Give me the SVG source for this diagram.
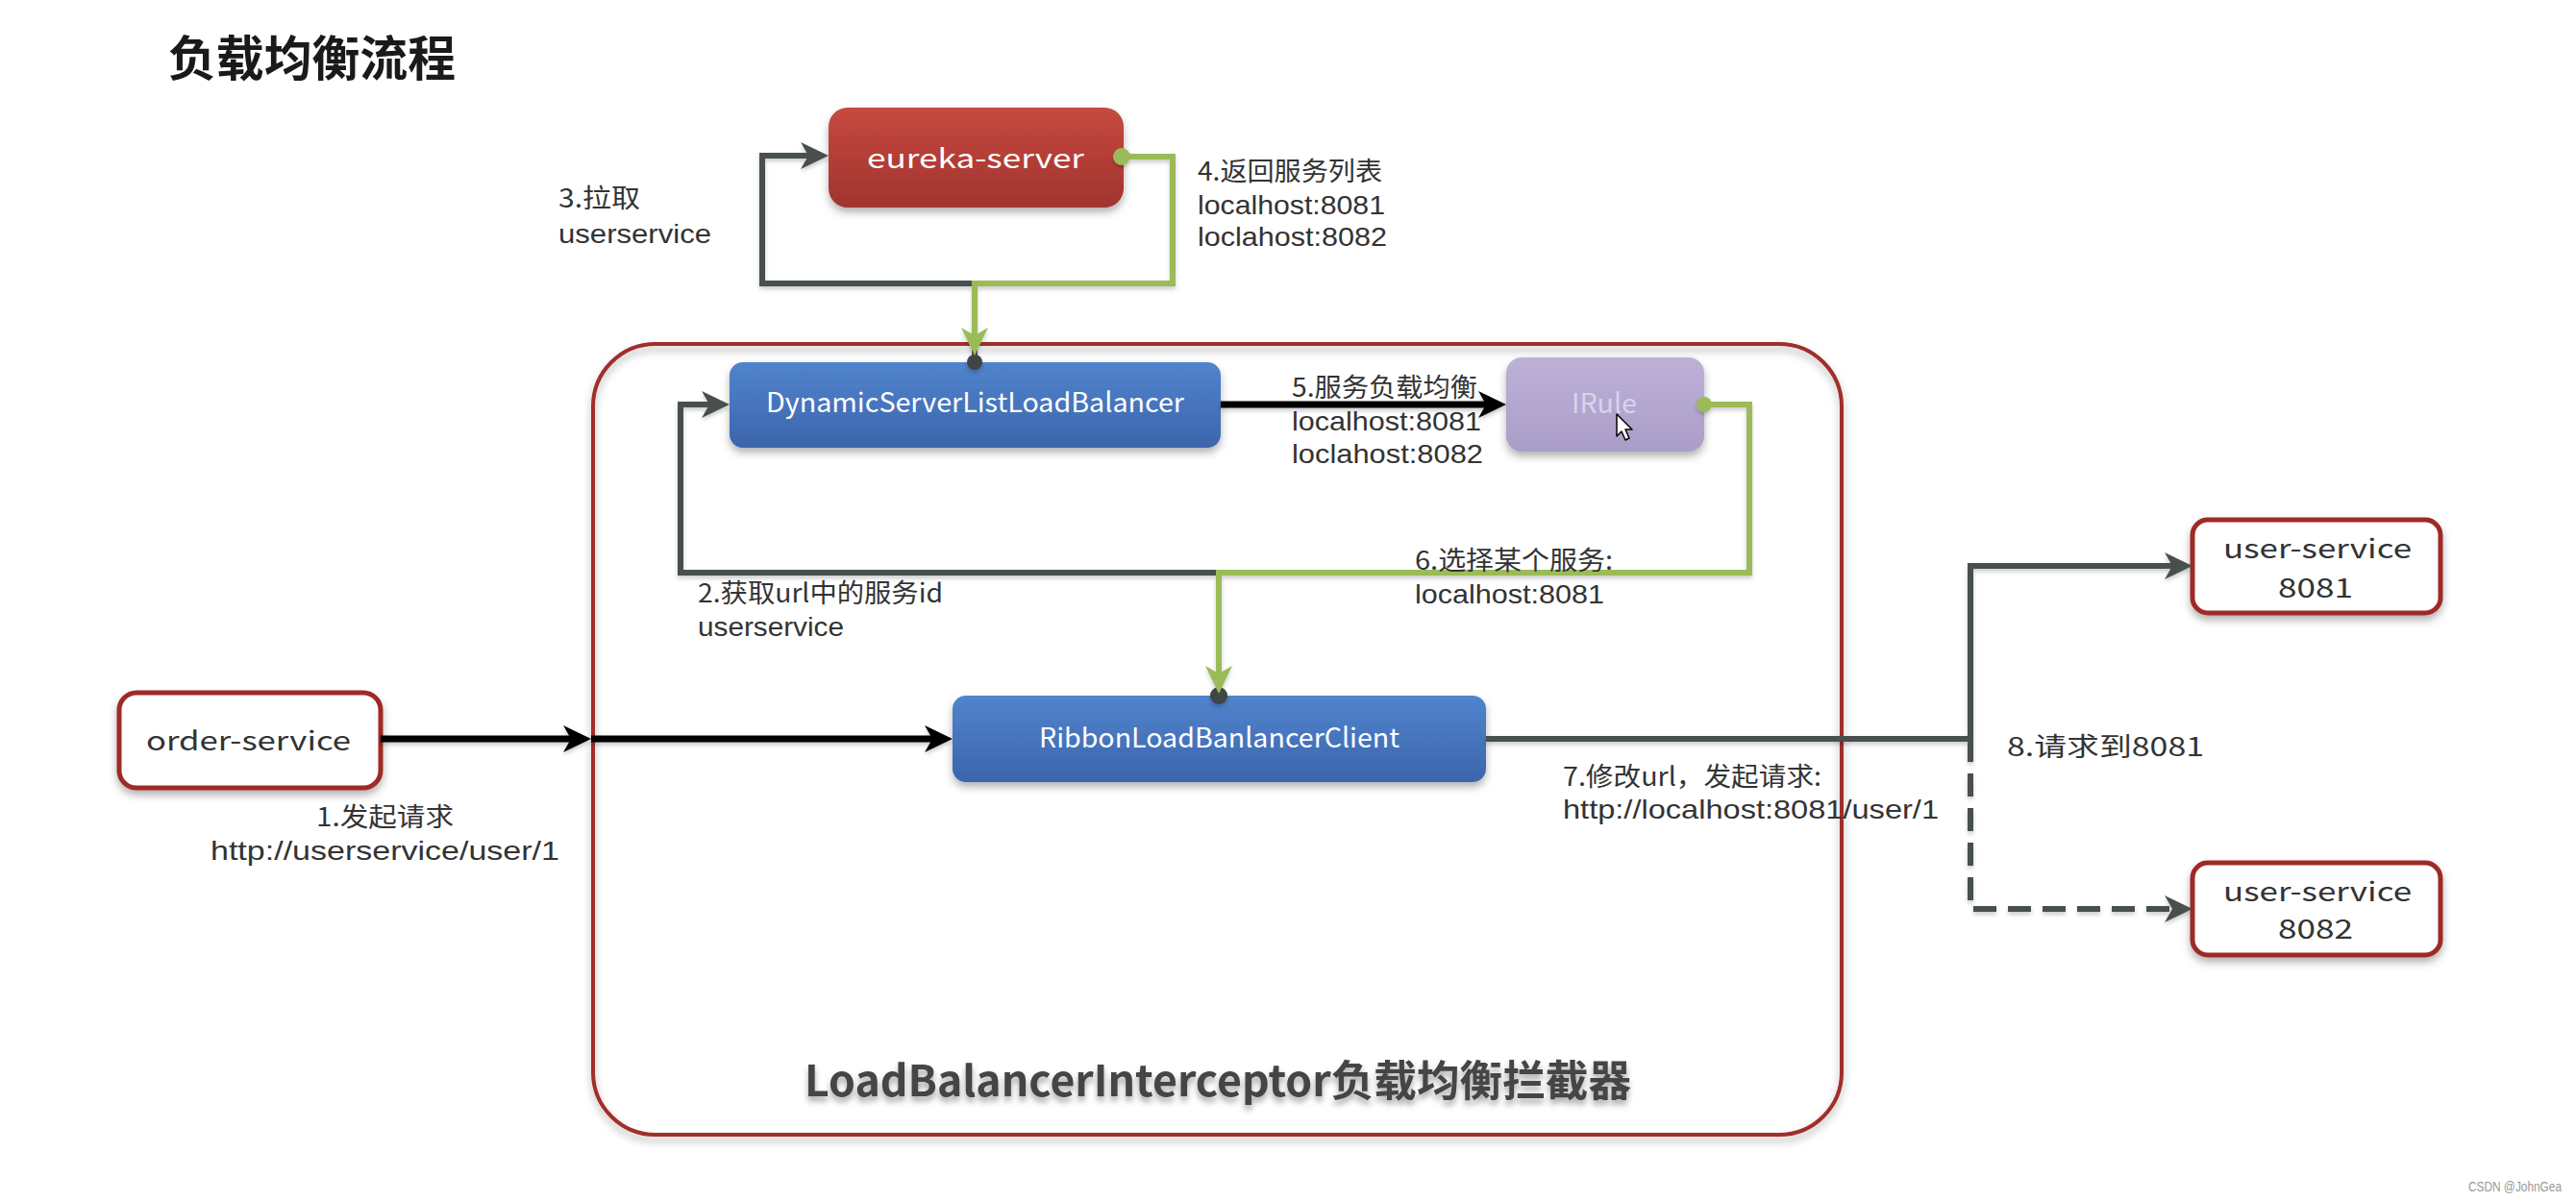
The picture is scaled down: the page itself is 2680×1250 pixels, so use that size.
<svg xmlns="http://www.w3.org/2000/svg" width="2680" height="1250" viewBox="0 0 2680 1250">
<defs>
<style>
.lbl{font-family:"Noto Sans CJK SC","Noto Sans",sans-serif;font-size:27px;fill:#333333}
.lat{font-family:"Liberation Sans","Noto Sans",sans-serif;font-size:28px;fill:#333333}
.ntx{font-family:"Noto Sans CJK SC","Noto Sans",sans-serif;font-size:28px}
.wbox{fill:#ffffff;stroke:#9e2c28;stroke-width:5}
.grey{fill:none;stroke:#4a4f4f;stroke-width:6;stroke-linejoin:miter}
.green{fill:none;stroke:#9bbb59;stroke-width:6;stroke-linejoin:miter}
.black{fill:none;stroke:#000000;stroke-width:7}
</style>
<linearGradient id="gRed" x1="0" y1="0" x2="0" y2="1"><stop offset="0" stop-color="#c6493f"/><stop offset="1" stop-color="#a1342f"/></linearGradient>
<linearGradient id="gBlue" x1="0" y1="0" x2="0" y2="1"><stop offset="0" stop-color="#5184cd"/><stop offset="1" stop-color="#3b65ac"/></linearGradient>
<linearGradient id="gPurple" x1="0" y1="0" x2="0" y2="1"><stop offset="0" stop-color="#bdb1d8"/><stop offset="1" stop-color="#aa9ec9"/></linearGradient>
<filter id="sh" x="-10%" y="-20%" width="120%" height="150%"><feDropShadow dx="0" dy="5" stdDeviation="4" flood-color="#000" flood-opacity="0.3"/></filter>
<filter id="lsh" x="-10%" y="-10%" width="120%" height="130%"><feDropShadow dx="0" dy="3" stdDeviation="2" flood-color="#000" flood-opacity="0.2"/></filter>
<filter id="tsh" x="-5%" y="-30%" width="110%" height="180%"><feDropShadow dx="0" dy="5" stdDeviation="3" flood-color="#000" flood-opacity="0.35"/></filter>
<marker id="aBlack" viewBox="0 0 30 30" refX="18" refY="15" markerWidth="30" markerHeight="30" markerUnits="userSpaceOnUse" orient="auto"><path d="M1,1 L30,15 L1,29 L9,15 Z" fill="#000000"/></marker>
<marker id="aGrey" viewBox="0 0 30 30" refX="18" refY="15" markerWidth="30" markerHeight="30" markerUnits="userSpaceOnUse" orient="auto"><path d="M1,1 L30,15 L1,29 L9,15 Z" fill="#4a4f4f"/></marker>
<marker id="aGreen" viewBox="0 0 30 30" refX="18" refY="15" markerWidth="30" markerHeight="30" markerUnits="userSpaceOnUse" orient="auto"><path d="M1,1 L30,15 L1,29 L9,15 Z" fill="#9bbb59"/></marker>
</defs>
<rect width="2680" height="1250" fill="#ffffff"/>

<text x="175" y="79" font-family="'Noto Sans CJK SC',sans-serif" font-size="50" font-weight="bold" fill="#1a1a1a" textLength="299" lengthAdjust="spacingAndGlyphs">负载均衡流程</text>

<g id="interceptor">
<rect x="617" y="358" width="1299" height="823" rx="65" ry="65" fill="none" stroke="#a12d2a" stroke-width="4" filter="url(#sh)"/>
<text x="837" y="1141" font-family="'Noto Sans CJK SC',sans-serif" font-size="44" font-weight="bold" fill="#444444" textLength="860" lengthAdjust="spacingAndGlyphs" filter="url(#tsh)">LoadBalancerInterceptor负载均衡拦截器</text>
</g>

<g id="eureka-server">
<rect x="862" y="112" width="307" height="104" rx="20" fill="url(#gRed)" filter="url(#sh)"/>
<text class="ntx" x="902" y="175" font-size="32" fill="#ffffff" textLength="226" lengthAdjust="spacingAndGlyphs">eureka-server</text>
</g>

<g id="dynamic-lb">
<rect x="759" y="377" width="511" height="89" rx="14" fill="url(#gBlue)" filter="url(#sh)"/>
<text class="ntx" x="797" y="429" font-size="27" fill="#ffffff" textLength="435" lengthAdjust="spacingAndGlyphs">DynamicServerListLoadBalancer</text>
</g>

<g id="irule">
<rect x="1567" y="372" width="206" height="98" rx="16" fill="url(#gPurple)" filter="url(#sh)"/>
<text class="ntx" x="1635" y="430" font-size="28" fill="#dad2ec" textLength="68" lengthAdjust="spacingAndGlyphs">IRule</text>
<path d="M1682,431 L1682,454 L1687,449 L1691,458 L1695,456 L1691,447 L1698,447 Z" fill="#ffffff" stroke="#000000" stroke-width="1.5" stroke-linejoin="round"/>
</g>

<g id="ribbon-client">
<rect x="991" y="724" width="555" height="90" rx="14" fill="url(#gBlue)" filter="url(#sh)"/>
<text class="ntx" x="1081" y="778" font-size="28" fill="#ffffff" textLength="375" lengthAdjust="spacingAndGlyphs">RibbonLoadBanlancerClient</text>
</g>

<g id="order-service">
<rect class="wbox" x="124" y="721" width="272" height="99" rx="18" filter="url(#sh)"/>
<text class="ntx" x="152" y="781" font-size="32" fill="#333333" textLength="213" lengthAdjust="spacingAndGlyphs">order-service</text>
</g>

<g id="user-service-8081">
<rect class="wbox" x="2281" y="541" width="258" height="97" rx="16" filter="url(#sh)"/>
<text class="ntx" x="2313" y="581" font-size="32" fill="#333333" textLength="196" lengthAdjust="spacingAndGlyphs">user-service</text>
<text class="ntx" x="2370" y="622" font-size="32" fill="#333333" textLength="78" lengthAdjust="spacingAndGlyphs">8081</text>
</g>

<g id="user-service-8082">
<rect class="wbox" x="2281" y="898" width="258" height="96" rx="16" filter="url(#sh)"/>
<text class="ntx" x="2313" y="938" font-size="32" fill="#333333" textLength="196" lengthAdjust="spacingAndGlyphs">user-service</text>
<text class="ntx" x="2370" y="977" font-size="32" fill="#333333" textLength="78" lengthAdjust="spacingAndGlyphs">8082</text>
</g>

<g id="connectors" filter="url(#lsh)">
<path class="black" d="M396,769 H603" marker-end="url(#aBlack)"/>
<path class="black" d="M615,769 H979" marker-end="url(#aBlack)"/>
<path class="grey" d="M1268,724 V596 H708 V421 H747" marker-end="url(#aGrey)"/>
<circle cx="1268" cy="724" r="9" fill="#3f4444"/>
<path class="grey" d="M1014,377 V295 H793 V162 H850" marker-end="url(#aGrey)"/>
<circle cx="1014" cy="377" r="8" fill="#3f4444"/>
<path class="green" d="M1167,163 H1220 V295 H1014 V358" marker-end="url(#aGreen)"/>
<circle cx="1167" cy="163" r="9" fill="#9bbb59"/>
<path class="black" d="M1270,421 H1555" marker-end="url(#aBlack)"/>
<path class="green" d="M1773,421 H1820 V596 H1268 V710" marker-end="url(#aGreen)"/>
<circle cx="1773" cy="421" r="8" fill="#9bbb59"/>
<path class="grey" d="M2050,769 V589 H2269" marker-end="url(#aGrey)"/>
<path class="grey" d="M1546,769 H2050" stroke="#7c8181"/>
<path class="grey" d="M1546,769 H2050 V946 H2269" stroke="#3e4343" stroke-dasharray="24 12" marker-end="url(#aGrey)"/>
</g>

<g id="labels">
<text class="lbl" x="581" y="216" textLength="85" lengthAdjust="spacingAndGlyphs">3.拉取</text>
<text class="lat" x="581" y="253" textLength="159" lengthAdjust="spacingAndGlyphs">userservice</text>
<text class="lbl" x="1246" y="188" textLength="192" lengthAdjust="spacingAndGlyphs">4.返回服务列表</text>
<text class="lat" x="1246" y="223" textLength="195" lengthAdjust="spacingAndGlyphs">localhost:8081</text>
<text class="lat" x="1246" y="256" textLength="197" lengthAdjust="spacingAndGlyphs">loclahost:8082</text>
<text class="lbl" x="1344" y="413" textLength="193" lengthAdjust="spacingAndGlyphs">5.服务负载均衡</text>
<text class="lat" x="1344" y="448" textLength="197" lengthAdjust="spacingAndGlyphs">localhost:8081</text>
<text class="lat" x="1344" y="482" textLength="199" lengthAdjust="spacingAndGlyphs">loclahost:8082</text>
<text class="lbl" x="1472" y="593" textLength="206" lengthAdjust="spacingAndGlyphs">6.选择某个服务:</text>
<text class="lat" x="1472" y="628" textLength="197" lengthAdjust="spacingAndGlyphs">localhost:8081</text>
<text class="lbl" x="726" y="627" textLength="255" lengthAdjust="spacingAndGlyphs">2.获取url中的服务id</text>
<text class="lat" x="726" y="662" textLength="152" lengthAdjust="spacingAndGlyphs">userservice</text>
<text class="lbl" x="329" y="860" textLength="143" lengthAdjust="spacingAndGlyphs">1.发起请求</text>
<text class="lat" x="219" y="895" textLength="363" lengthAdjust="spacingAndGlyphs">http://userservice/user/1</text>
<text class="lbl" x="1626" y="818" textLength="269" lengthAdjust="spacingAndGlyphs">7.修改url，发起请求:</text>
<text class="lat" x="1626" y="852" textLength="391" lengthAdjust="spacingAndGlyphs">http://localhost:8081/user/1</text>
<text class="lbl" x="2088" y="787" font-size="32" textLength="205" lengthAdjust="spacingAndGlyphs">8.请求到8081</text>
</g>

<text x="2568" y="1240" font-family="'Liberation Sans',sans-serif" font-size="14" fill="#999999" textLength="97" lengthAdjust="spacingAndGlyphs">CSDN @JohnGea</text>
</svg>
